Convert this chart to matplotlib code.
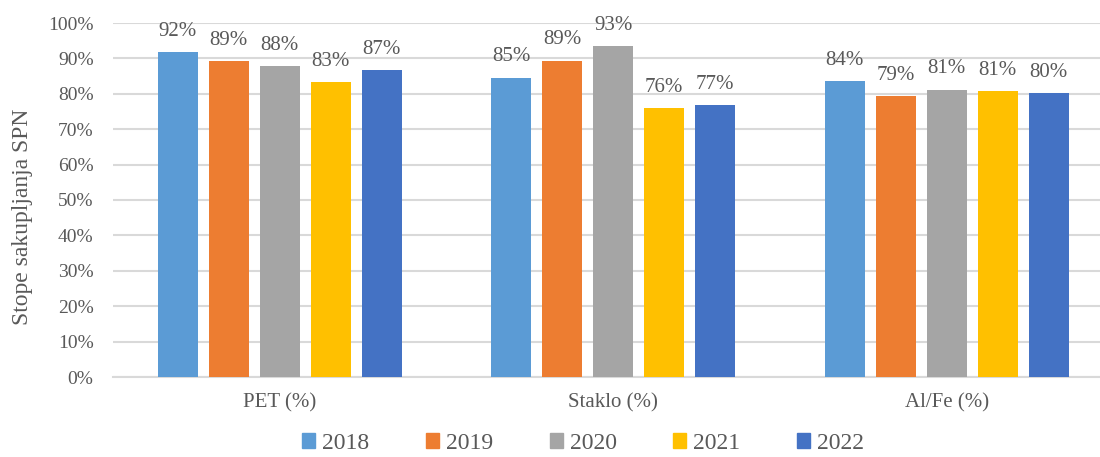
import numpy as np
import matplotlib.pyplot as plt
from matplotlib.patches import Patch

# data
categories = ['PET (%)', 'Staklo (%)', 'Al/Fe (%)']
years = ['2018', '2019', '2020', '2021', '2022']
v2018 = [91.7, 84.6, 83.7]
v2019 = [89.2, 89.4, 79.3]
v2020 = [87.9, 93.4, 81.2]
v2021 = [83.2, 75.9, 80.7]
v2022 = [86.6, 76.8, 80.1]
series = [v2018, v2019, v2020, v2021, v2022]
colors = ['#5B9BD5', '#ED7D31', '#A5A5A5', '#FFC000', '#4472C4']

txt = '#595959'
plt.rcParams['font.family'] = ['Liberation Serif', 'DejaVu Serif']

fig = plt.figure(figsize=(11, 4.57), dpi=100)
# plot area in pixels: left 113, bottom 80, width 1000, height 354
ax = fig.add_axes([113 / 1100, 80 / 457, 1000.5 / 1100, 354 / 457])

x = np.arange(len(categories))
step = 0.153
width = 0.12
for i, (vals, c) in enumerate(zip(series, colors)):
    pos = x + (i - 2) * step
    bars = ax.bar(pos, vals, width, color=c, zorder=3, label=years[i])
    for b, v in zip(bars, vals):
        ax.annotate(f'{round(v):.0f}%', (b.get_x() + b.get_width() / 2, v),
                    xytext=(0, 8), textcoords='offset points',
                    ha='center', va='bottom', fontsize=15, color=txt)

ax.set_xlim(-0.5, 2.5)
ax.set_ylim(0, 100)
ax.set_yticks(np.arange(0, 101, 10))
ax.set_yticklabels([f'{t}%' for t in range(0, 101, 10)])
ax.set_xticks(x)
ax.set_xticklabels(categories)
ax.tick_params(axis='both', length=0, labelsize=14, colors=txt)
ax.tick_params(axis='x', pad=12, labelsize=15)
ax.tick_params(axis='y', pad=14)
ax.grid(axis='y', color='#D9D9D9', linewidth=1.5, zorder=0)
for s in ['top', 'right', 'left']:
    ax.spines[s].set_visible(False)
ax.spines['bottom'].set_color('#D9D9D9')
ax.spines['bottom'].set_linewidth(1.5)
fig.text(22.5 / 1100, 1 - 217 / 457, 'Stope sakupljanja SPN', rotation=90,
         ha='center', va='center', fontsize=17, color=txt)

handles = [Patch(color=c, label=y) for c, y in zip(colors, years)]
fig.legend(handles=handles, loc='center', bbox_to_anchor=(0.53, 0.03),
           ncol=5, frameon=False, fontsize=17, labelcolor=txt,
           handlelength=0.55, handleheight=0.55, handletextpad=0.3,
           columnspacing=2.4, borderpad=0.1)

fig.savefig('out.png', dpi=100)
